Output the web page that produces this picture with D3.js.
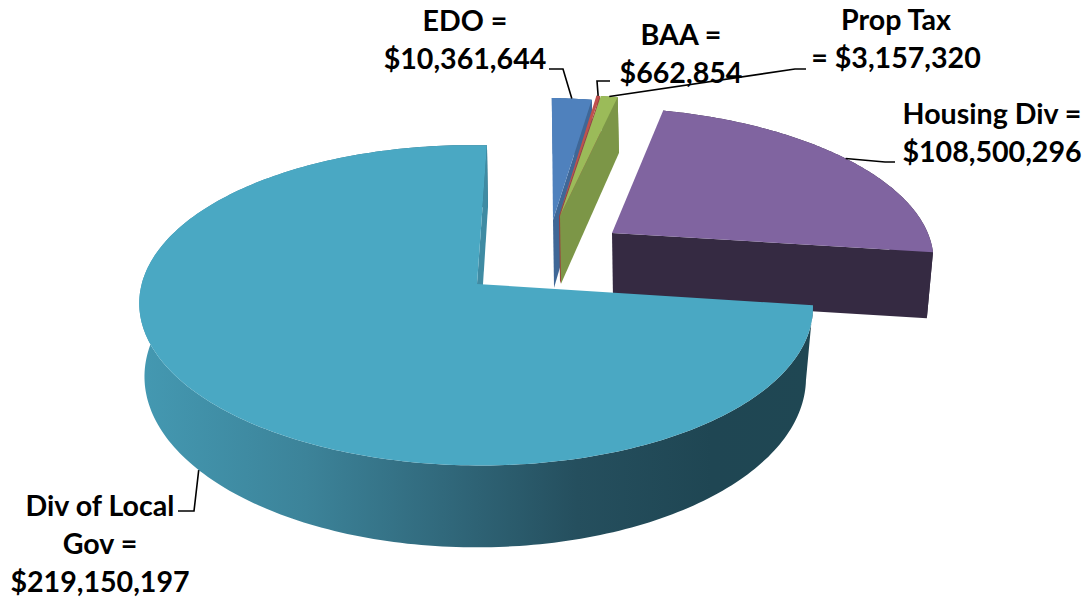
<!DOCTYPE html>
<html>
<head>
<meta charset="utf-8">
<script src="https://cdn.jsdelivr.net/npm/d3@7"></script>
<style>
  html, body { margin: 0; padding: 0; background: #fff; overflow: hidden; }
  text { font-family: Lato, "Open Sans", sans-serif; font-weight: 700; fill: #000; }
</style>
</head>
<body>
<div id="chart"></div>
<script>
// chart values
const categories = ["EDO", "BAA", "Prop Tax", "Housing Div", "Div of Local Gov"];
const amounts = [10361644, 662854, 3157320, 108500296, 219150197];
// how each label wraps, {v} is the dollar amount
const labelLines = [
    ["EDO =", "{v}"],
    ["BAA =", "{v}"],
    ["Prop Tax", "= {v}"],
    ["Housing Div =", "{v}"],
    ["Div of Local", "Gov =", "{v}"]
];

const width = 1089;
const height = 598;
const lineHeight = 38;

// colours for top face and walls
const topColors = ["#4f81bd", "#c0504d", "#9bbb59", "#8064a0", "#4aa8c3"];
const wallColors = ["#3f6797", "#9a403e", "#7c9647", "#352a42", "#3f8ba3"];

// exploded wedges: where the apex sits on screen, wedge size, wall height, lean
const apexes = [[553, 220], [559, 216], [560, 216], [612, 233], [477, 284]];
const wedgeScaleX = [0.97, 1.33, 1.34, 0.95, 1];
const wedgeScaleY = [0.88, 0.88, 0.88, 0.905, 1];
const depthScale = [0.9, 0.9, 0.9, 0.88, 1];
const lean = [0.081, 0.168, 0.17, 0.09, 0];
const leaderNudge = [0, 0, 0, 0, 0.04];

// label text placement and leader elbows
const labelPos = [[465, 31], [681, 45], [896, 30], [992, 124], [100, 516]];
const elbows = [
    [[549, 69], [563, 69]],
    [[610, 81], [597, 81]],
    [[806, 69], [795, 69]],
    [[895, 162], [885, 162]],
    [[178, 511], [194, 511]]
];

// solves the 8 unknowns of a plane projection from 4 point pairs
function makeProjection(src, dst) {
    const A = [];
    src.forEach((s, i) => {
        const [x, y] = s, [u, v] = dst[i];
        A.push([x, y, 1, 0, 0, 0, -u * x, -u * y, u]);
        A.push([0, 0, 0, x, y, 1, -v * x, -v * y, v]);
    });
    for (let c = 0; c < 8; c++) {
        let p = c;
        for (let r = c + 1; r < 8; r++) if (Math.abs(A[r][c]) > Math.abs(A[p][c])) p = r;
        [A[c], A[p]] = [A[p], A[c]];
        for (let r = 0; r < 8; r++) {
            if (r === c) continue;
            const f = A[r][c] / A[c][c];
            for (let k = c; k < 9; k++) A[r][k] -= f * A[c][k];
        }
    }
    const h = A.map((row, i) => row[8] / row[i]);
    return (x, y) => {
        const w = h[6] * x + h[7] * y + 1;
        return [(h[0] * x + h[1] * y + h[2]) / w, (h[3] * x + h[4] * y + h[5]) / w];
    };
}

const pie = d3.pie().sort(null).startAngle(0).endAngle(2 * Math.PI);
const arcs = pie(amounts);

// the 3d tilt squeezes the front of the pie, so pie angles get bent before drawing
const rad = 95 * Math.PI / 180;
const bend = d3.scaleLinear()
    .domain([0, arcs[3].endAngle, 2 * Math.PI])
    .range([0, rad, 2 * Math.PI]);

const discPts = [[0, 1], [0, -1], [Math.sin(rad), Math.cos(rad)], [-Math.sin(rad), -Math.cos(rad)]];
const topPlane = makeProjection(discPts, [[487, 145], [464, 465], [813, 305], [150, 263]]);
const bottomPlane = makeProjection(discPts, [[488, 207], [466, 547], [806, 380], [153, 338]]);

const center = topPlane(0, 0);

function project(i, angle, r, lower) {
    const a = bend(angle);
    const x = r * Math.sin(a), y = r * Math.cos(a);
    const t = topPlane(x, y);
    const dy = t[1] - center[1];
    const out = [
        apexes[i][0] + wedgeScaleX[i] * (t[0] - center[0] + lean[i] * dy),
        apexes[i][1] + wedgeScaleY[i] * dy
    ];
    if (lower) {
        const b = bottomPlane(x, y);
        out[0] += depthScale[i] * (b[0] - t[0]);
        out[1] += depthScale[i] * (b[1] - t[1]);
    }
    return out;
}

const svg = d3.select("#chart")
    .append("svg")
    .attr("width", width)
    .attr("height", height);

// dark band along the front of the big slice
const grad = svg.append("defs").append("linearGradient")
    .attr("id", "rimGrad")
    .attr("gradientUnits", "userSpaceOnUse")
    .attr("x1", 138).attr("x2", 813).attr("y1", 0).attr("y2", 0);
[[0, "#4499b2"], [0.25, "#3c8399"], [0.45, "#31697c"], [0.65, "#254f5e"], [0.85, "#1f4653"], [1, "#1f4753"]]
    .forEach(s => grad.append("stop").attr("offset", s[0]).attr("stop-color", s[1]));

const line = d3.line();

function rimPoints(i, a0, a1, lower) {
    const n = Math.max(2, Math.ceil((a1 - a0) * 60));
    return d3.range(n + 1).map(k => project(i, a0 + (a1 - a0) * k / n, 1, lower));
}

// far wedges first, the big slice sits on top of them
const slices = svg.selectAll(".slice")
    .data(arcs)
    .enter()
    .append("g")
    .attr("class", "slice");

slices.each(function(d, i) {
    const g = d3.select(this);
    const topRim = rimPoints(i, d.startAngle, d.endAngle, false);
    const lowRim = rimPoints(i, d.startAngle, d.endAngle, true);

    // outer wall
    g.append("path")
        .attr("d", line(topRim.concat(lowRim.slice().reverse())) + "Z")
        .attr("fill", i === 4 ? "url(#rimGrad)" : wallColors[i]);

    // only the cut wall at the end of each slice faces us
    g.append("path")
        .attr("d", line([
            project(i, d.endAngle, 0, false),
            project(i, d.endAngle, 1, false),
            project(i, d.endAngle, 1, true),
            project(i, d.endAngle, 0, true)
        ]) + "Z")
        .attr("fill", wallColors[i]);

    // top face
    g.append("path")
        .attr("d", line([project(i, 0, 0, false)].concat(topRim)) + "Z")
        .attr("fill", topColors[i]);
});

// leaders go from the rim to the label
svg.selectAll(".leader")
    .data(arcs)
    .enter()
    .append("path")
    .attr("class", "leader")
    .attr("fill", "none")
    .attr("stroke", "#000")
    .attr("stroke-width", 1.6)
    .attr("d", (d, i) => line(elbows[i].concat([
        project(i, (d.startAngle + d.endAngle) / 2 + leaderNudge[i], 1, i === 4)
    ])));

const moneyFmt = d3.format("$,");

labelLines.forEach((lines, i) => {
    svg.selectAll(".label" + i)
        .data(lines)
        .enter()
        .append("text")
        .attr("class", "label" + i)
        .attr("text-anchor", "middle")
        .attr("x", labelPos[i][0])
        .attr("y", (d, k) => labelPos[i][1] + k * lineHeight)
        .style("font-size", "28.6px")
        .text(d => d.replace("{v}", moneyFmt(amounts[i])));
});
</script>
</body>
</html>
